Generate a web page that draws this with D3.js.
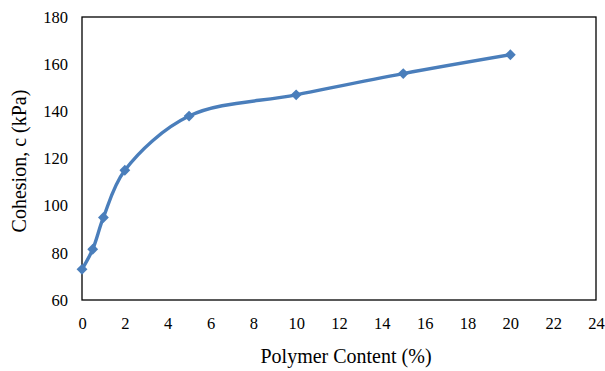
<!DOCTYPE html>
<html>
<head>
<meta charset="utf-8">
<script src="https://cdn.jsdelivr.net/npm/d3@7"></script>
<style>
  body { margin: 0; background: #fff; }
  text { font-family: "Liberation Serif", "Times New Roman", serif; fill: #000; }
</style>
</head>
<body>
<div id="chart"></div>
<script>
const width = 605
const height = 371

// values
const polymer = [0, 0.5, 1, 2, 5, 10, 15, 20]
const cohesion = [73, 81.5, 95, 115, 138, 147, 156, 164]
const xTicks = [0, 2, 4, 6, 8, 10, 12, 14, 16, 18, 20, 22, 24]
const yTicks = [60, 80, 100, 120, 140, 160, 180]

const margin = {top: 17, right: 9, bottom: 71, left: 82}

const svg = d3.select("#chart")
  .append("svg")
    .attr("width", width)
    .attr("height", height)

const x = d3.scaleLinear()
  .domain([0, 24])
  .range([margin.left, width - margin.right])

const y = d3.scaleLinear()
  .domain([60, 180])
  .range([height - margin.bottom, margin.top])

// plot frame
svg.append("rect")
  .attr("x", x(0))
  .attr("y", y(180))
  .attr("width", x(24) - x(0))
  .attr("height", y(60) - y(180))
  .attr("fill", "none")
  .attr("stroke", "#000")
  .attr("stroke-width", 1.3)

// axes with no tick marks, just labels
svg.append("g")
  .attr("transform", `translate(0,${y(60)})`)
  .call(d3.axisBottom(x).tickValues(xTicks).tickSize(0).tickPadding(17))
  .call(g => g.select(".domain").remove())
  .selectAll("text")
    .style("font-size", "16.5px")
    .style("font-family", "Liberation Serif, serif")

svg.append("g")
  .attr("transform", `translate(${x(0)},0)`)
  .call(d3.axisLeft(y).tickValues(yTicks).tickSize(0).tickPadding(14))
  .call(g => g.select(".domain").remove())
  .selectAll("text")
    .style("font-size", "16.5px")
    .style("font-family", "Liberation Serif, serif")

// axis titles
svg.append("text")
  .attr("x", 346)
  .attr("y", 363)
  .attr("text-anchor", "middle")
  .style("font-size", "20px")
  .text("Polymer Content (%)")

svg.append("text")
  .attr("transform", `translate(26,161) rotate(-90)`)
  .attr("text-anchor", "middle")
  .style("font-size", "20px")
  .text("Cohesion, c (kPa)")

const points = polymer.map((p, i) => [p, cohesion[i]])
const blue = "#4a7ebb"

// Excel style smoothed line
const line = d3.line()
  .x(d => x(d[0]))
  .y(d => y(d[1]))
  .curve(d3.curveCatmullRom.alpha(0.5))

svg.append("path")
  .datum(points)
  .attr("d", line)
  .attr("fill", "none")
  .attr("stroke", blue)
  .attr("stroke-width", 3.4)

svg.append("g")
  .selectAll("path")
  .data(points)
  .join("path")
    .attr("d", d3.symbol(d3.symbolDiamond2, 75))
    .attr("transform", d => `translate(${x(d[0])},${y(d[1])})`)
    .attr("fill", blue)
</script>
</body>
</html>
